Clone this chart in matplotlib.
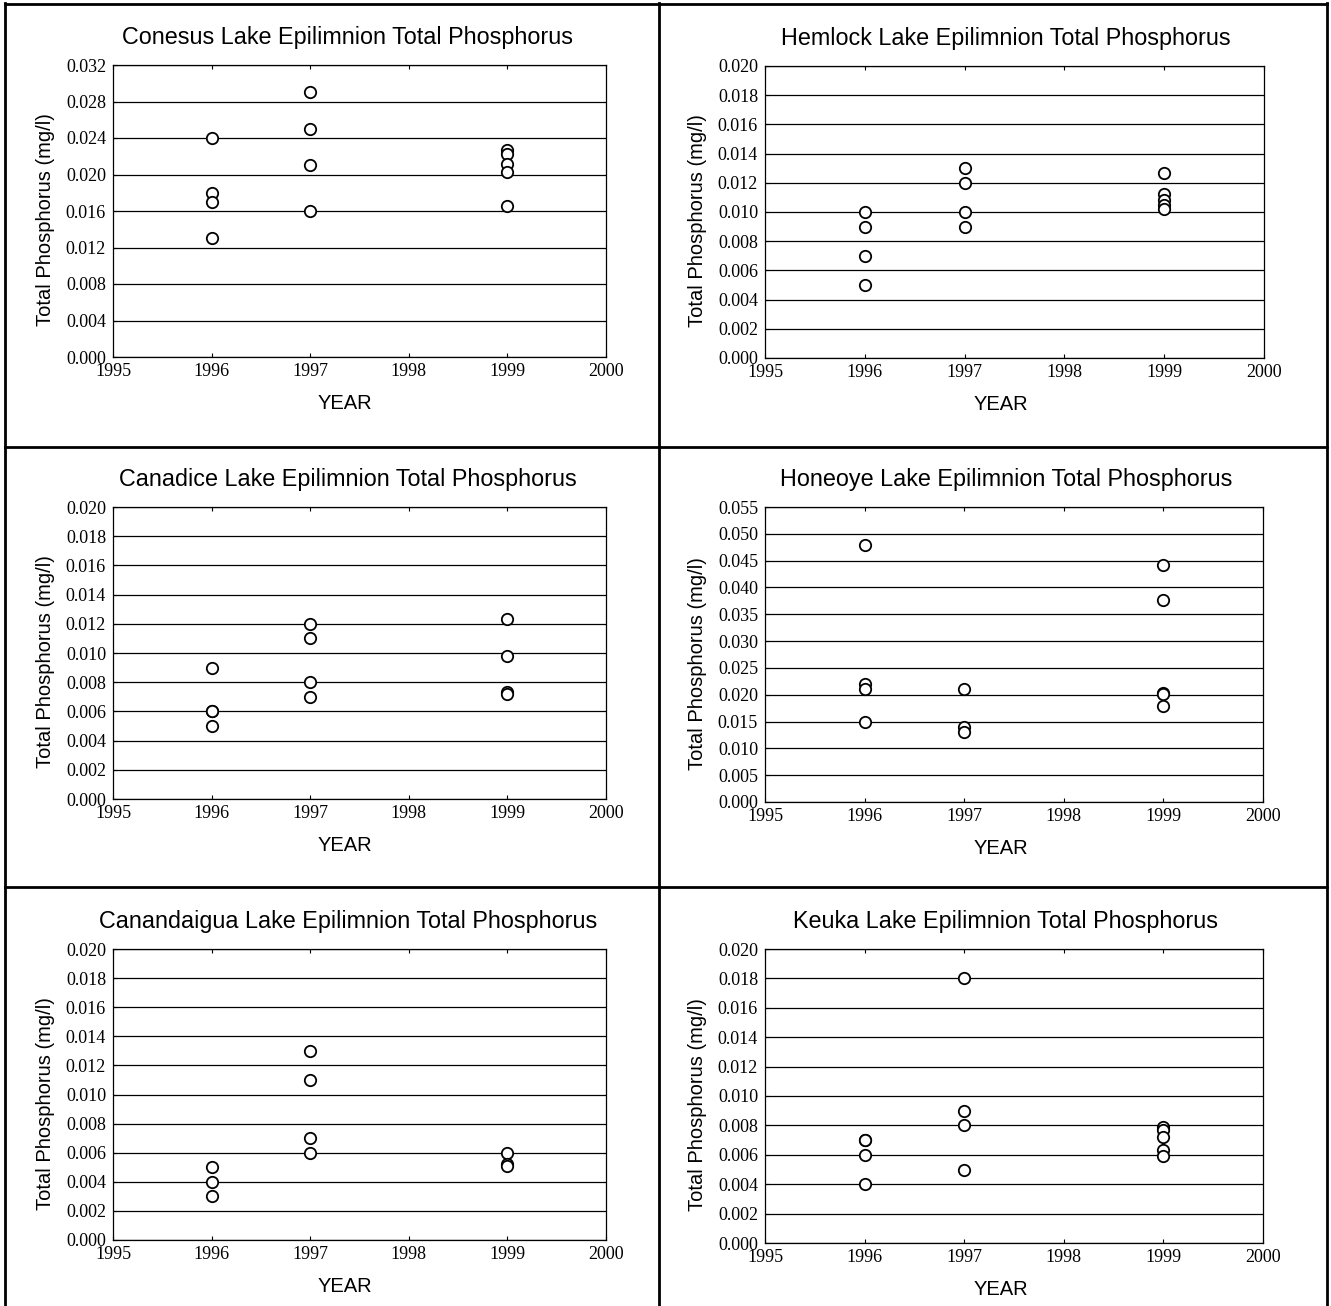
import matplotlib
matplotlib.use("Agg")
import matplotlib.pyplot as plt
import numpy as np
from matplotlib.lines import Line2D
from matplotlib.ticker import FormatStrFormatter, MultipleLocator

# ---------------- data ----------------
lakes = ["Conesus", "Hemlock", "Canadice", "Honeoye", "Canandaigua", "Keuka"]

conesus_years = [1996, 1996, 1996, 1996, 1997, 1997, 1997, 1997, 1999, 1999, 1999, 1999, 1999]
conesus_tp = [0.024, 0.018, 0.017, 0.013, 0.029, 0.025, 0.021, 0.016, 0.0227, 0.0223, 0.0212, 0.0203, 0.0165]

hemlock_years = [1996, 1996, 1996, 1996, 1997, 1997, 1997, 1997, 1999, 1999, 1999, 1999, 1999]
hemlock_tp = [0.010, 0.009, 0.007, 0.005, 0.013, 0.012, 0.010, 0.009, 0.0127, 0.0112, 0.0108, 0.0105, 0.0102]

canadice_years = [1996, 1996, 1996, 1996, 1997, 1997, 1997, 1997, 1999, 1999, 1999, 1999]
canadice_tp = [0.009, 0.006, 0.006, 0.005, 0.012, 0.011, 0.008, 0.007, 0.0123, 0.0098, 0.0073, 0.0072]

honeoye_years = [1996, 1996, 1996, 1996, 1997, 1997, 1997, 1999, 1999, 1999, 1999, 1999]
honeoye_tp = [0.048, 0.022, 0.021, 0.015, 0.021, 0.014, 0.013, 0.0442, 0.0377, 0.0203, 0.0201, 0.0179]

canandaigua_years = [1996, 1996, 1996, 1997, 1997, 1997, 1997, 1999, 1999, 1999]
canandaigua_tp = [0.005, 0.004, 0.003, 0.013, 0.011, 0.007, 0.006, 0.0060, 0.0052, 0.0051]

keuka_years = [1996, 1996, 1996, 1996, 1997, 1997, 1997, 1997, 1999, 1999, 1999, 1999, 1999]
keuka_tp = [0.007, 0.007, 0.006, 0.004, 0.018, 0.009, 0.008, 0.005, 0.0079, 0.0077, 0.0072, 0.0063, 0.0059]

y_max = [0.032, 0.020, 0.020, 0.055, 0.020, 0.020]
y_step = [0.004, 0.002, 0.002, 0.005, 0.002, 0.002]
x_ticks = [1995, 1996, 1997, 1998, 1999, 2000]

all_years = [conesus_years, hemlock_years, canadice_years, honeoye_years, canandaigua_years, keuka_years]
all_tp = [conesus_tp, hemlock_tp, canadice_tp, honeoye_tp, canandaigua_tp, keuka_tp]

# ---------------- layout (pixels) ----------------
W, H = 1331, 1306
fig = plt.figure(figsize=(W / 100, H / 100), dpi=100)

# axes boxes: left, right, top, bottom (pixels)
boxes = [
    (113, 606, 65, 357),
    (765, 1264, 66, 358),
    (113, 606, 507, 799),
    (765, 1263, 507, 802),
    (113, 606, 949, 1240),
    (765, 1263, 949, 1243),
]

SANS = ["Liberation Sans", "Arial", "DejaVu Sans"]
SERIF = ["Liberation Serif", "Times New Roman", "DejaVu Serif"]


def fx(px):
    return px / W


def fy(py):
    return 1 - py / H


for i, (l, r, t, b) in enumerate(boxes):
    ax = fig.add_axes([fx(l), fy(b), (r - l) / W, (b - t) / H])
    ax.plot(all_years[i], all_tp[i], linestyle="none", marker="o", markersize=8.2,
            markerfacecolor="white", markeredgecolor="black", markeredgewidth=1.3, zorder=5,
            clip_on=False)
    ax.set_xlim(1995, 2000)
    ax.set_ylim(0, y_max[i])
    ax.set_xticks(x_ticks)
    ax.yaxis.set_major_locator(MultipleLocator(y_step[i]))
    ax.yaxis.set_major_formatter(FormatStrFormatter("%.3f"))
    ax.grid(axis="y", color="black", linewidth=0.9)
    ax.set_axisbelow(True)
    ax.tick_params(axis="x", direction="in", length=3, width=0.8, top=True, pad=4)
    ax.tick_params(axis="y", direction="in", length=3, width=0.8, pad=5)
    for lab in ax.get_xticklabels() + ax.get_yticklabels():
        lab.set_fontfamily(SERIF)
        lab.set_fontsize(13)
    for s in ax.spines.values():
        s.set_linewidth(0.9)

    cx = 348 if l < 500 else 1006
    fig.text(fx(cx), fy(t - 21), f"{lakes[i]} Lake Epilimnion Total Phosphorus",
             ha="center", va="baseline", fontsize=16.8, family=SANS)
    xc = 345 if l < 500 else 1001
    fig.text(fx(xc), fy(b + 52), "YEAR", ha="center", va="baseline", fontsize=14.5, family=SANS)
    fig.text(fx(l - 67), fy((t + b) / 2 + 9), "Total Phosphorus (mg/l)", rotation=90,
             ha="center", va="center", fontsize=14.5, family=SANS)

# ---------------- cell borders ----------------
lw = 2.0
xs_v = [5, 659, 1327]
for xv in xs_v:
    fig.add_artist(Line2D([fx(xv), fx(xv)], [fy(3), fy(H + 5)], color="black", linewidth=lw))
for yh in [4, 447, 887]:
    fig.add_artist(Line2D([fx(5), fx(1327)], [fy(yh), fy(yh)], color="black", linewidth=lw))

fig.savefig("out.png", dpi=100, facecolor="white")
